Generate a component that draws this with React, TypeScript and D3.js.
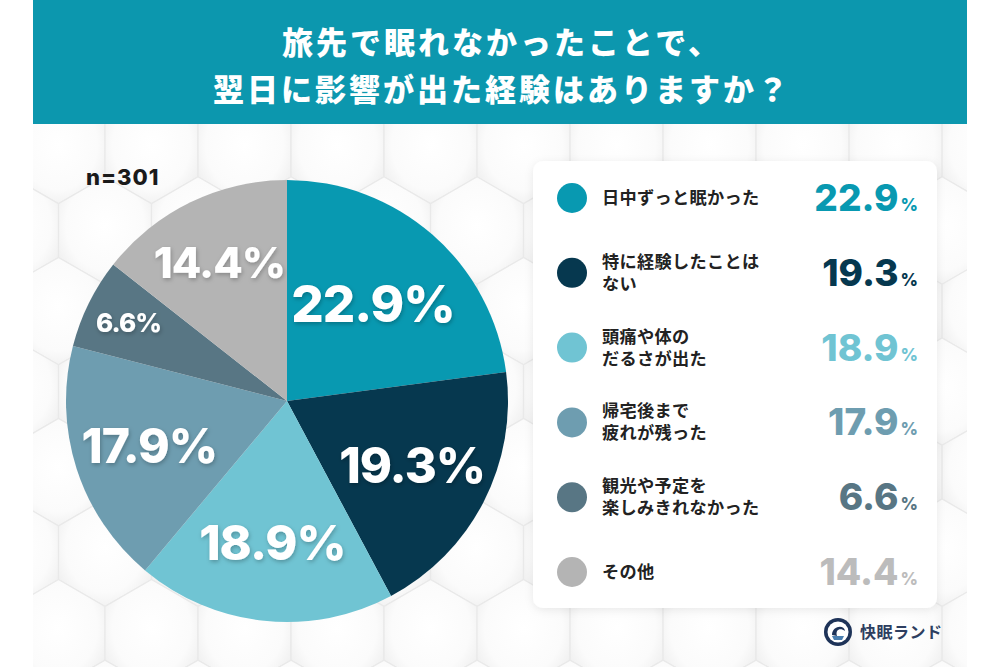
import React from "react";
import * as d3 from "d3";

const categories = [
  "日中ずっと眠かった",
  "特に経験したことは\nない",
  "頭痛や体の\nだるさが出た",
  "帰宅後まで\n疲れが残った",
  "観光や予定を\n楽しみきれなかった",
  "その他",
];
const values = [22.9, 19.3, 18.9, 17.9, 6.6, 14.4];
const colors = ["#0899b1", "#06384f", "#70c4d3", "#6e9db0", "#587684", "#b4b4b4"];
const legendValueColors = ["#0899b1", "#06384f", "#70c4d3", "#6e9db0", "#587684", "#bcbcbc"];
const titleLines = ["旅先で眠れなかったことで、", "翌日に影響が出た経験はありますか？"];
const sampleLabel = "n=301";
const brandLabel = "快眠ランド";

const W = 1000;
const H = 667;
const PANEL_X0 = 33;
const PANEL_X1 = 967;
const BAND_H = 124;
const CX = 287;
const CY = 401;
const R = 221;

const JP = "'Noto Sans CJK JP', 'Noto Sans', sans-serif";
const NUM = "Inter, 'Noto Sans', sans-serif";

type Datum = { label: string; value: number; color: string; vcolor: string };

export default function App() {
  const data: Datum[] = categories.map((label, i) => ({
    label,
    value: values[i],
    color: colors[i],
    vcolor: legendValueColors[i],
  }));

  const pie = d3
    .pie<Datum>()
    .sort(null)
    .value((d) => d.value)
    .startAngle(0)
    .endAngle(2 * Math.PI);
  const arcs = pie(data);
  const arcGen = d3.arc<d3.PieArcDatum<Datum>>().innerRadius(0).outerRadius(R);

  const maxV = d3.max(values) as number;
  const minV = d3.min(values) as number;
  // label font size and radial position depend on slice size
  const fontScale = d3.scaleLinear().domain([minV, 14.4, 17.9, maxV]).range([26, 43, 48, 51]).clamp(true);
  const radScale = d3.scaleLinear().domain([minV, maxV]).range([0.8, 0.59]).clamp(true);

  // hexagon background
  const hexR = 53.7;
  const hexW = Math.sqrt(3) * hexR;
  const hexes: { x: number; y: number }[] = [];
  for (let row = -1; row < 9; row++) {
    for (let col = -1; col < 12; col++) {
      const x = 105 + hexW / 2 + col * hexW + (row % 2 ? hexW / 2 : 0) - hexW;
      const y = 150 + row * hexR * 1.5;
      hexes.push({ x, y });
    }
  }
  const hexPath = (x: number, y: number) => {
    const pts = d3.range(6).map((k) => {
      const a = (Math.PI / 3) * k + Math.PI / 6;
      return [x + hexR * Math.cos(a), y + hexR * Math.sin(a)];
    });
    return "M" + pts.map((p) => p.join(",")).join("L") + "Z";
  };

  const legendX0 = 533;
  const legendY0 = 161;
  const legendW = 404;
  const legendH = 447;
  const rowY = d3.scaleLinear().domain([0, data.length - 1]).range([198, 572]);

  return (
    <div style={{ position: "fixed", left: 0, top: 0, width: W, height: H, background: "#fff" }}>
      <svg width={W} height={H} viewBox={`0 0 ${W} ${H}`}>
        <defs>
          <clipPath id="panelClip">
            <rect x={PANEL_X0} y={BAND_H} width={PANEL_X1 - PANEL_X0} height={H - BAND_H} />
          </clipPath>
          <radialGradient id="hexGrad" cx="50%" cy="45%" r="60%">
            <stop offset="0%" stopColor="#ffffff" />
            <stop offset="70%" stopColor="#fbfbfb" />
            <stop offset="100%" stopColor="#efefef" />
          </radialGradient>
          <filter id="txtShadow" x="-20%" y="-30%" width="140%" height="160%">
            <feDropShadow dx="1" dy="2" stdDeviation="2" floodColor="#000" floodOpacity="0.25" />
          </filter>
          <filter id="boxShadow" x="-10%" y="-10%" width="120%" height="120%">
            <feDropShadow dx="0" dy="2" stdDeviation="4" floodColor="#000" floodOpacity="0.08" />
          </filter>
        </defs>

        {/* background panel */}
        <rect x={PANEL_X0} y={BAND_H} width={PANEL_X1 - PANEL_X0} height={H - BAND_H} fill="#f3f3f3" />
        <g clipPath="url(#panelClip)">
          {hexes.map((h, i) => (
            <path key={i} d={hexPath(h.x, h.y)} fill="url(#hexGrad)" stroke="#e9e9e9" strokeWidth={1.2} />
          ))}
        </g>

        {/* title band */}
        <rect x={PANEL_X0} y={0} width={PANEL_X1 - PANEL_X0} height={BAND_H} fill="#0c97ae" />
        {titleLines.map((t, i) => (
          <text
            key={i}
            x={W / 2 + 2}
            y={40 + i * 47}
            textAnchor="middle"
            dominantBaseline="central"
            fill="#fff"
            fontFamily={JP}
            fontWeight={900}
            fontSize={31}
            letterSpacing={3}
          >
            {t}
          </text>
        ))}

        {/* sample size */}
        <text x={86} y={185} fontFamily={NUM} fontWeight={800} fontSize={22} letterSpacing={1} fill="#1a1a1a">
          {sampleLabel}
        </text>

        {/* pie */}
        <g transform={`translate(${CX},${CY})`}>
          {arcs.map((a, i) => (
            <path key={i} d={arcGen(a) as string} fill={a.data.color} />
          ))}
          {arcs.map((a, i) => {
            const mid = (a.startAngle + a.endAngle) / 2;
            const rr = R * radScale(a.data.value);
            const x = rr * Math.sin(mid);
            const y = -rr * Math.cos(mid);
            const fs = fontScale(a.data.value);
            return (
              <text
                key={"l" + i}
                x={x}
                y={y + fs * 0.37}
                textAnchor="middle"
                fill="#fff"
                fontFamily={NUM}
                fontWeight={800}
                fontSize={fs}
                letterSpacing={-1}
                filter="url(#txtShadow)"
              >
                {a.data.value.toFixed(1)}%
              </text>
            );
          })}
        </g>

        {/* legend */}
        <rect
          x={legendX0}
          y={legendY0}
          width={legendW}
          height={legendH}
          rx={10}
          fill="#fff"
          filter="url(#boxShadow)"
        />
        {data.map((d, i) => {
          const cy = rowY(i);
          const lines = d.label.split("\n");
          return (
            <g key={i}>
              <circle cx={572} cy={cy} r={15} fill={d.color} />
              <text fontFamily={JP} fontWeight={700} fontSize={17.2} letterSpacing={0.3} fill="#222">
                {lines.map((ln, j) => (
                  <tspan
                    key={j}
                    x={602}
                    y={cy + (j - (lines.length - 1) / 2) * 22 + 6}
                  >
                    {ln}
                  </tspan>
                ))}
              </text>
              <text
                x={918}
                y={cy + 13}
                textAnchor="end"
                fontFamily={NUM}
                fontWeight={800}
                fontSize={37}
                fill={d.vcolor}
              >
                {d.value.toFixed(1)}
                <tspan fontSize={17} dx={2}>
                  %
                </tspan>
              </text>
            </g>
          );
        })}

        {/* brand */}
        <g transform="translate(838,632)">
          <circle r={14} fill="#1e3358" />
          <circle r={10.5} fill="#fff" />
          <path d="M-6,3 C-6,-6 6,-8 7,-1 C2,-5 -3,-2 -1,4 Z" fill="#1e3358" />
          <path d="M-6,4 L6,4 L4,8 L-4,8 Z" fill="#4a7fb0" />
        </g>
        <text x={860} y={638} fontFamily={JP} fontWeight={700} fontSize={16} fill="#2d3e60" letterSpacing={0.5}>
          {brandLabel}
        </text>
      </svg>
    </div>
  );
}
